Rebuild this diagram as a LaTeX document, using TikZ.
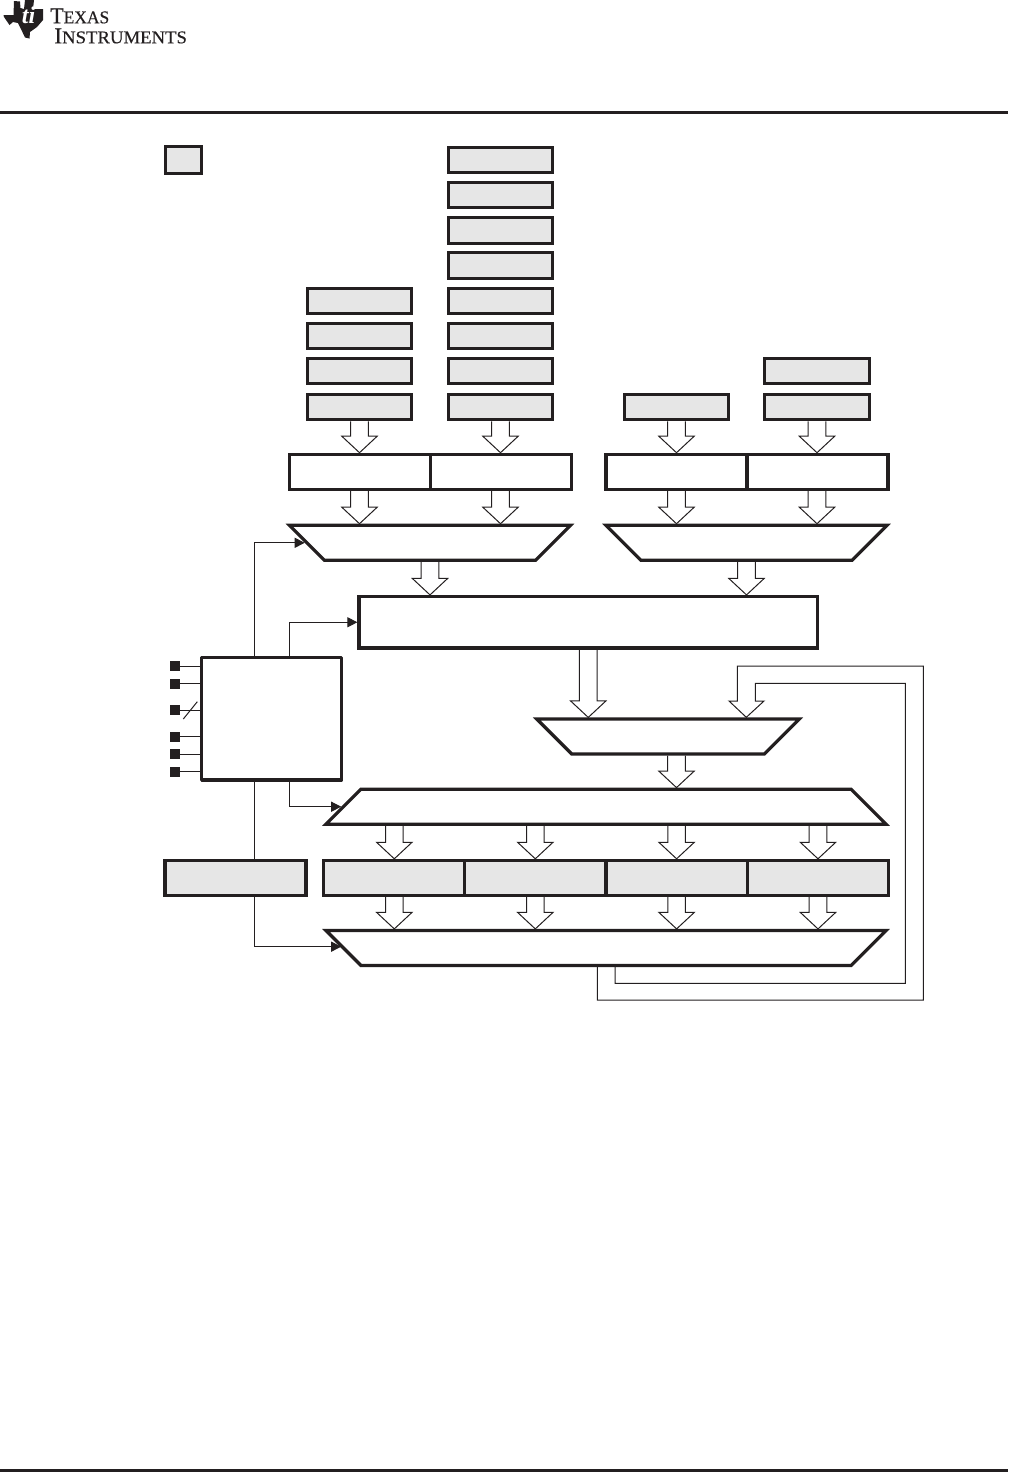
\documentclass[tikz,border=0pt]{standalone}
\usepackage{fontspec}
\setmainfont{Liberation Serif}
\usetikzlibrary{arrows.meta,calc,shapes.geometric}
\newlength{\pxu}
\setlength{\pxu}{0.75pt}
\definecolor{tiblack}{HTML}{231F20}
\definecolor{tigray}{HTML}{E6E6E6}
\tikzset{
heavy/.style={draw=tiblack,line width=3.2\pxu},
fine/.style={draw=tiblack,line width=1\pxu},
regbox/.style={heavy,fill=tigray,minimum width=104.4\pxu,minimum height=25.4\pxu,inner sep=0pt},
bufbox/.style={heavy,minimum width=141\pxu,minimum height=34.8\pxu,inner sep=0pt},
cellbox/.style={bufbox,fill=tigray},
narrowing/.style={heavy,trapezium,trapezium angle=45,trapezium stretches body=true,shape border rotate=180,minimum width=#1,inner xsep=1pt,inner ysep=17.5\pxu},
widening/.style={heavy,trapezium,trapezium angle=45,trapezium stretches body=true,minimum width=#1,inner xsep=1pt,inner ysep=17.5\pxu},
pinbox/.style={draw=tiblack,fill=tiblack,line width=1\pxu,minimum size=9\pxu,inner sep=0pt},
ctl/.style={fine,-{Triangle[length=7.5pt,width=7.5pt]}},
logotext/.style={anchor=base west,inner sep=0pt,text=tiblack,transform shape},
hollow/.style={fine,to path={let \p1=(\tikztostart),\p2=(\tikztotarget) in
 (\x1-8.8\pxu,\y1) -- (\x1-8.8\pxu,\y2+16.5\pxu) -- (\x1-17.7\pxu,\y2+16.5\pxu) -- (\x1,\y2)
 -- (\x1+17.7\pxu,\y2+16.5\pxu) -- (\x1+8.8\pxu,\y2+16.5\pxu) -- (\x1+8.8\pxu,\y1)}}
}
\begin{document}
\begin{tikzpicture}[x=0.75pt,y=-0.75pt]
\useasboundingbox (0,0) rectangle (1008,1472);
% page furniture
\fill[tiblack] (0,111.2) rectangle (1008,114);
\fill[tiblack] (0,1468.7) rectangle (1008,1472);
\fill[tiblack] (14,1) -- (20,1.5) -- (20.5,8) -- (24,9) -- (25,0) -- (34,0) -- (33,9) -- (43,9) -- (43,20) -- (37,27) -- (30,32) -- (29.5,38.5)
 -- (25,37.5) -- (20.5,28) -- (18,23) -- (13,22) -- (9.5,25) -- (4,17) -- (3.5,15) -- (13.5,15) -- cycle;
\node[text=white,inner sep=0pt] (logoti) at (28.5,15) {\fontsize{18}{18}\selectfont\bfseries\itshape ti};
\node[logotext,xscale=0.97] (logotop) at (50,23.3) {\addfontfeature{FakeBold=0.4}\fontsize{17}{17}\selectfont T\fontsize{13.5}{13.5}\selectfont EXAS};
\node[logotext,xscale=1.04] (logobot) at (54,43.3) {\addfontfeature{FakeBold=0.4}\fontsize{17}{17}\selectfont I\fontsize{13.5}{13.5}\selectfont NSTRUMENTS};
% legend and registers
\node[heavy,fill=tigray,minimum width=36\pxu,minimum height=27\pxu,inner sep=0pt] (legend) at (183.5,160) {};
\node[regbox] (regB8) at (500.5,160) {};
\node[regbox] (regB7) at (500.5,195) {};
\node[regbox] (regB6) at (500.5,230.5) {};
\node[regbox] (regB5) at (500.5,265.5) {};
\node[regbox] (regB4) at (500.5,301) {};
\node[regbox] (regB3) at (500.5,336) {};
\node[regbox] (regB2) at (500.5,371) {};
\node[regbox] (regB1) at (500.5,407) {};
\node[regbox] (regA4) at (359.5,301) {};
\node[regbox] (regA3) at (359.5,336) {};
\node[regbox] (regA2) at (359.5,371) {};
\node[regbox] (regA1) at (359.5,407) {};
\node[regbox] (regC1) at (676.5,407) {};
\node[regbox] (regD2) at (817,371) {};
\node[regbox] (regD1) at (817,407) {};
% buffers and selectors
\node[bufbox] (bufA) at (360,471.7) {};
\node[bufbox] (bufB) at (501,471.7) {};
\node[bufbox] (bufC) at (676.5,471.7) {};
\node[bufbox] (bufD) at (817.5,471.7) {};
\node[narrowing=281\pxu] (muxA) at (430,542.8) {};
\node[narrowing=281\pxu] (muxB) at (746.5,542.8) {};
\node[heavy,minimum width=458.5\pxu,minimum height=51.5\pxu,inner sep=0pt] (alu) at (588.25,622.25) {};
\node[narrowing=262.5\pxu] (muxC) at (668,736.5) {};
\node[widening=560\pxu] (demux) at (606,806.7) {};
\node[cellbox] (cellA) at (394.3,877.8) {};
\node[cellbox] (cellB) at (535.3,877.8) {};
\node[cellbox] (cellC) at (676.6,877.8) {};
\node[cellbox] (cellD) at (818,877.8) {};
\node[regbox,minimum width=141\pxu,minimum height=34.8\pxu] (flags) at (235.5,877.8) {};
\node[narrowing=560\pxu] (muxD) at (606,948) {};
\node[heavy,line join=round,minimum width=140\pxu,minimum height=122.7\pxu,inner sep=0pt] (ctrl) at (271.7,718.7) {};
% pins
\node[pinbox] (pinA) at (175,666) {};
\node[pinbox] (pinB) at (175,683.7) {};
\node[pinbox] (pinC) at (175,710) {};
\node[pinbox] (pinD) at (175,736.5) {};
\node[pinbox] (pinE) at (175,754) {};
\node[pinbox] (pinF) at (175,771.7) {};
\draw[fine] (pinA.east) -- (pinA.east -| ctrl.west);
\draw[fine] (pinB.east) -- (pinB.east -| ctrl.west);
\draw[fine] (pinC.east) -- (pinC.east -| ctrl.west);
\draw[fine] (pinD.east) -- (pinD.east -| ctrl.west);
\draw[fine] (pinE.east) -- (pinE.east -| ctrl.west);
\draw[fine] (pinF.east) -- (pinF.east -| ctrl.west);
\draw[fine] (183.3,719) -- (197.3,701.7);
% wide arrows
\draw[hollow] (regA1.south) to (bufA.north);
\draw[hollow] (regB1.south) to (bufB.north);
\draw[hollow] (regC1.south) to (bufC.north);
\draw[hollow] (regD1.south) to (bufD.north);
\draw[hollow] (regA1.south |- bufA.south) to (muxA.north);
\draw[hollow] (regB1.south |- bufB.south) to (muxA.north);
\draw[hollow] (regC1.south |- bufC.south) to (muxB.north);
\draw[hollow] (regD1.south |- bufD.south) to (muxB.north);
\draw[hollow] (muxA.south) to (alu.north);
\draw[hollow] (muxB.south) to (alu.north);
\draw[hollow] (alu.south) to (muxC.north);
\draw[hollow] (regC1.south |- muxC.south) to (demux.north);
\draw[hollow] (cellA.north |- demux.south) to (cellA.north);
\draw[hollow] (cellB.north |- demux.south) to (cellB.north);
\draw[hollow] (cellC.north |- demux.south) to (cellC.north);
\draw[hollow] (cellD.north |- demux.south) to (cellD.north);
\draw[hollow] (cellA.south) to (muxD.north);
\draw[hollow] (cellB.south) to (muxD.north);
\draw[hollow] (cellC.south) to (muxD.north);
\draw[hollow] (cellD.south) to (muxD.north);
% feedback from the last selector
\coordinate (fbA) at (597.3,966);
\coordinate (fbB) at (615,966);
\draw[fine] (fbA) |- (923.3,1000) |- (737.3,666) -- (737.3,701) -- (729,701) -- (746.3,717.3) -- (764,701) -- (755.3,701)
 |- (905.3,683.3) |- (615,983.3) -- (fbB);
% control lines
\coordinate (ctlA) at (254.3,657);
\coordinate (ctlB) at (289.3,657);
\coordinate (ctlC) at (289.3,780);
\coordinate (ctlD) at (254.3,780);
\draw[ctl] (ctlA) |- (muxA.west);
\draw[ctl] (ctlB) |- (alu.west);
\draw[ctl] (ctlC) |- (demux.west);
\draw[fine] (ctlD) -- (ctlD |- flags.north);
\draw[ctl] (ctlD |- flags.south) |- ([yshift=1pt]muxD.west);
\end{tikzpicture}
\end{document}
